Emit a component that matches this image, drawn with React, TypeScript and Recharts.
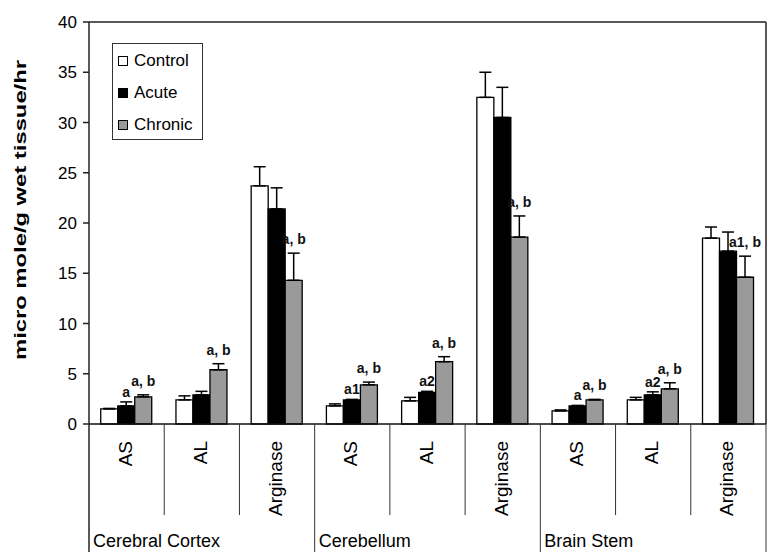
import React from 'react';
import { BarChart, Bar, XAxis, YAxis, ErrorBar, LabelList, Legend, ReferenceLine } from 'recharts';

const categories = ['AS', 'AL', 'Arginase', 'AS', 'AL', 'Arginase', 'AS', 'AL', 'Arginase'];
const groups = ['Cerebral Cortex', 'Cerebellum', 'Brain Stem'];
const seriesNames = ['Control', 'Acute', 'Chronic'];
const seriesColors = ['#ffffff', '#000000', '#9a9a9a'];

const control = [1.5, 2.4, 23.7, 1.8, 2.3, 32.5, 1.3, 2.4, 18.5];
const controlErr = [0.05, 0.4, 1.9, 0.2, 0.35, 2.5, 0.1, 0.25, 1.1];
const acute = [1.8, 2.9, 21.4, 2.4, 3.15, 30.5, 1.8, 2.9, 17.2];
const acuteErr = [0.4, 0.35, 2.1, 0.05, 0.1, 3.0, 0.05, 0.3, 1.9];
const chronic = [2.7, 5.4, 14.3, 3.9, 6.2, 18.6, 2.4, 3.5, 14.6];
const chronicErr = [0.2, 0.6, 2.7, 0.27, 0.5, 2.1, 0.05, 0.6, 2.1];
const acuteNote = ['a', '', '', 'a1', 'a2', '', 'a', 'a2', ''];
const chronicNote = ['a, b', 'a, b', 'a, b', 'a, b', 'a, b', 'a, b', 'a, b', 'a, b', 'a1, b'];
const yTicks = [0, 5, 10, 15, 20, 25, 30, 35, 40];

const data = categories.map((c, i) => ({
  key: `${groups[Math.floor(i / 3)]}-${c}`,
  control: control[i],
  acute: acute[i],
  chronic: chronic[i],
  controlErr: [0, controlErr[i]],
  acuteErr: [0, acuteErr[i]],
  chronicErr: [0, chronicErr[i]],
  acuteNote: acuteNote[i],
  chronicNote: chronicNote[i],
}));

const FONT = '"Liberation Sans", Arial, sans-serif';
const AXIS_H = 128;

const CategoryTick = (props: any) => {
  const { x, y, payload, index } = props;
  const half = payload && typeof payload.offset === 'number' && payload.offset > 0 ? payload.offset : 37.6;
  const i = index;
  const bottom = y + AXIS_H;
  const groupEnd = i % 3 === 2;
  return (
    <g>
      <text
        transform={`rotate(-90 ${x + 5} ${y + 17})`}
        x={x + 5}
        y={y + 17}
        textAnchor="end"
        fontSize={19}
        fill="#000"
        fontFamily={FONT}
      >
        {categories[i]}
      </text>
      <line x1={x + half} y1={y} x2={x + half} y2={groupEnd ? bottom : y + 91} stroke="#333" strokeWidth={1} />
      {i === 0 && <line x1={x - half} y1={y} x2={x - half} y2={bottom} stroke="#222" strokeWidth={1.5} />}
      {i % 3 === 0 && (
        <text x={x - half + 4} y={y + 123} fontSize={18} fill="#000" fontFamily={FONT}>
          {groups[i / 3]}
        </text>
      )}
    </g>
  );
};

const makeNote = (valueKey: 'acute' | 'chronic', errArr: number[], gap: number) => (props: any) => {
  const { x, y, width, height, value, index } = props;
  if (!value) return null;
  const v = data[index][valueKey];
  const pxPerUnit = v ? height / v : 0;
  const top = y - errArr[index] * pxPerUnit;
  return (
    <text x={x + width / 2} y={top - gap} textAnchor="middle" fontSize={14} fontWeight="bold" fill="#111" fontFamily={FONT}>
      {value}
    </text>
  );
};

const YLabel = (props: any) => {
  const vb = props.viewBox || { x: 0, y: 22, width: 89, height: 402 };
  const cx = 20;
  const cy = vb.y + vb.height / 2 - 13;
  return (
    <text
      transform={`rotate(-90 ${cx} ${cy})`}
      x={cx}
      y={cy}
      textAnchor="middle"
      dominantBaseline="central"
      fontSize={16}
      fontWeight="bold"
      fill="#000"
      fontFamily={FONT}
      textLength={300}
      lengthAdjust="spacingAndGlyphs"
    >
      micro mole/g wet tissue/hr
    </text>
  );
};

const LegendBox = () => (
  <div
    style={{
      border: '1.5px solid #333',
      width: 91,
      height: 97,
      boxSizing: 'border-box',
      padding: '1px 0 0 5px',
      background: '#fff',
      fontFamily: FONT,
      fontSize: 17,
      color: '#000',
    }}
  >
    {seriesNames.map((n, i) => (
      <div key={n} style={{ display: 'flex', alignItems: 'center', height: 32 }}>
        <span
          style={{
            display: 'inline-block',
            width: 10,
            height: 10,
            boxSizing: 'border-box',
            border: '1px solid #000',
            background: seriesColors[i],
            marginRight: 6,
          }}
        />
        {n}
      </div>
    ))}
  </div>
);

export default function App() {
  return (
    <div style={{ position: 'absolute', left: 0, top: 0, fontFamily: FONT, background: '#fff' }}>
      <BarChart
        width={771}
        height={552}
        data={data}
        margin={{ top: 22, right: 0, bottom: 0, left: 0 }}
        barCategoryGap="15.6%"
        barGap={0}
      >
        <XAxis
          dataKey="key"
          height={AXIS_H}
          interval={0}
          tickLine={false}
          tickSize={0}
          tickMargin={0}
          axisLine={{ stroke: '#111', strokeWidth: 1.5 }}
          tick={<CategoryTick />}
        />
        <YAxis
          domain={[0, 40]}
          ticks={yTicks}
          width={89}
          tickSize={6}
          tickMargin={6}
          axisLine={{ stroke: '#222', strokeWidth: 1.5 }}
          tickLine={{ stroke: '#222', strokeWidth: 1.5 }}
          tick={{ fontSize: 17, fill: '#000', fontFamily: FONT }}
          label={{ content: (p: any) => <YLabel {...p} /> }}
        />
        <YAxis
          yAxisId="right"
          orientation="right"
          domain={[0, 40]}
          width={5}
          tick={false}
          tickLine={false}
          axisLine={{ stroke: '#222', strokeWidth: 1.5 }}
        />
        <ReferenceLine y={40} stroke="#222" strokeWidth={1.5} />
        <Legend
          layout="vertical"
          align="center"
          verticalAlign="middle"
          content={<LegendBox />}
          wrapperStyle={{ left: 112, top: 43, width: 91, height: 97 }}
        />
        <Bar dataKey="control" name="Control" fill={seriesColors[0]} stroke="#000" strokeWidth={1.3} isAnimationActive={false}>
          <ErrorBar dataKey="controlErr" direction="y" width={6} stroke="#000" strokeWidth={1.5} />
        </Bar>
        <Bar dataKey="acute" name="Acute" fill={seriesColors[1]} stroke="#000" strokeWidth={1.3} isAnimationActive={false}>
          <ErrorBar dataKey="acuteErr" direction="y" width={6} stroke="#000" strokeWidth={1.5} />
          <LabelList dataKey="acuteNote" content={makeNote('acute', acuteErr, 5)} />
        </Bar>
        <Bar dataKey="chronic" name="Chronic" fill={seriesColors[2]} stroke="#000" strokeWidth={1.3} isAnimationActive={false}>
          <ErrorBar dataKey="chronicErr" direction="y" width={6} stroke="#000" strokeWidth={1.5} />
          <LabelList dataKey="chronicNote" content={makeNote('chronic', chronicErr, 9)} />
        </Bar>
      </BarChart>
    </div>
  );
}
